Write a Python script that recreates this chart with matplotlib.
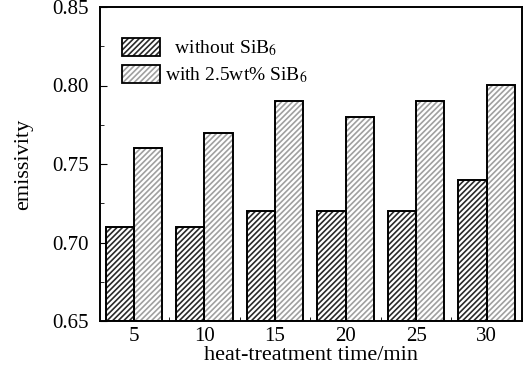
import numpy as np
import matplotlib
matplotlib.use("Agg")
import matplotlib.pyplot as plt
from matplotlib.patches import Patch
from matplotlib.legend_handler import HandlerTuple
from matplotlib.ticker import MultipleLocator

plt.rcParams['font.family'] = ['Liberation Serif', 'DejaVu Serif']
plt.rcParams['mathtext.fontset'] = 'stix'
plt.rcParams['hatch.linewidth'] = 1.2

times = ['5', '10', '15', '20', '25', '30']
without_sib6 = [0.71, 0.71, 0.72, 0.72, 0.72, 0.74]
with_sib6 = [0.76, 0.77, 0.79, 0.78, 0.79, 0.80]
labels = [r'  without SiB$_6$', r'with 2.5wt% SiB$_6$']
dark_hatch = '#2a2a2a'
light_hatch = '#a0a0a0'

fig = plt.figure(figsize=(5.3, 3.68), dpi=100)
ax = fig.add_axes([100 / 530, 1 - 321 / 368, 422 / 530, 314 / 368])

x = np.arange(len(times))
w = 0.4
base = 0.65

# hatched fills (hatch colour comes from edgecolor), then black outlines on top
ax.bar(x - w / 2, np.array(without_sib6) - base, w, bottom=base, color='white',
       edgecolor=dark_hatch, hatch='//////', linewidth=0)
ax.bar(x + w / 2, np.array(with_sib6) - base, w, bottom=base, color='white',
       edgecolor=light_hatch, hatch='//////', linewidth=0)
ax.bar(x - w / 2, np.array(without_sib6) - base, w, bottom=base, fill=False,
       edgecolor='black', linewidth=1.4)
ax.bar(x + w / 2, np.array(with_sib6) - base, w, bottom=base, fill=False,
       edgecolor='black', linewidth=1.4)

ax.set_xlim(-0.48, 5.5)
ax.set_ylim(0.65, 0.85)
ax.set_xticks(x)
ax.set_xticklabels(times)
ax.xaxis.set_minor_locator(MultipleLocator(0.5))
ax.set_yticks([0.65, 0.70, 0.75, 0.80, 0.85])
ax.set_yticklabels(['0.65', '0.70', '0.75', '0.80', '0.85'])
ax.yaxis.set_minor_locator(MultipleLocator(0.025))
ax.tick_params(axis='both', which='both', direction='in', labelsize=15)
ax.tick_params(axis='x', which='major', length=0, pad=4)
ax.tick_params(axis='x', which='minor', length=3)
ax.tick_params(axis='y', which='major', length=5, pad=8)
ax.tick_params(axis='y', which='minor', length=3)
for s in ax.spines.values():
    s.set_linewidth(1.4)

ax.set_xlabel('heat-treatment time/min', fontsize=16, labelpad=0)
ax.set_ylabel('emissivity', fontsize=16, labelpad=14)

# legend keys: hatched fill + black outline overlaid
handles = [
    (Patch(facecolor='white', edgecolor=dark_hatch, hatch='//////', linewidth=0),
     Patch(fill=False, edgecolor='black', linewidth=1.3)),
    (Patch(facecolor='white', edgecolor=light_hatch, hatch='//////', linewidth=0),
     Patch(fill=False, edgecolor='black', linewidth=1.3)),
]
ax.legend(handles, labels, loc='upper left', bbox_to_anchor=(0.033, 0.925),
          frameon=False, fontsize=14, handlelength=1.95, handleheight=1.0,
          handletextpad=0.3, labelspacing=0.35, borderaxespad=0,
          handler_map={tuple: HandlerTuple(ndivide=1, pad=0)})

fig.savefig('out.png', dpi=100)
